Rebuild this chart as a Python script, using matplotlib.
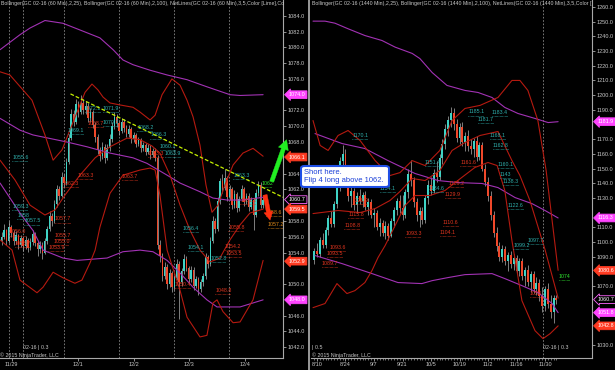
import matplotlib
matplotlib.use("Agg")
import matplotlib.pyplot as plt
import matplotlib.transforms as mtransforms
from matplotlib.lines import Line2D
from matplotlib.patches import FancyBboxPatch
from matplotlib.ticker import FormatStrFormatter, FixedLocator

plt.rcParams['font.family'] = ['Liberation Sans', 'DejaVu Sans']

# ---------------- LEFT PANEL DATA (60 min bars) ----------------
left_open = [1055.4,1056.0,1056.8,1055.5,1057.2,1056.5,1055.4,1056.2,1055.0,1055.8,
             1054.8,1055.6,1054.6,1055.3,1056.4,1055.2,1054.5,1055.0,1054.0,1055.4,
             1057.0,1058.6,1058.0,1060.2,1062.0,1061.2,1063.6,1062.8,1065.5,1068.5,
             1071.5,1070.6,1072.8,1071.8,1073.0,1072.0,1072.6,1071.0,1071.8,1070.2,
             1068.6,1067.0,1066.2,1067.4,1066.0,1067.2,1068.4,1070.0,1071.2,1070.4,
             1069.4,1070.6,1069.8,1069.0,1069.6,1068.4,1068.9,1067.8,1068.2,1067.2,
             1067.6,1066.8,1067.3,1066.4,1066.9,1066.0,1055.0,1053.6,1051.0,1052.2,
             1050.0,1051.4,1049.6,1050.8,1052.6,1050.2,1051.6,1053.2,1052.0,1050.6,
             1051.8,1049.8,1050.6,1049.4,1050.2,1051.0,1053.4,1052.6,1055.5,1058.0,
             1057.0,1060.5,1063.0,1062.2,1063.4,1061.0,1062.0,1060.0,1061.4,1059.6,
             1060.8,1062.0,1060.4,1061.2,1059.8,1060.6,1058.8,1061.5,1062.6,1060.0]
left_high = [1056.6,1057.6,1057.0,1058.0,1057.5,1056.8,1056.7,1056.4,1056.2,1056.0,
             1056.1,1055.9,1055.8,1056.9,1056.6,1055.5,1055.4,1055.3,1055.8,1057.4,
             1059.2,1059.0,1060.7,1062.6,1062.4,1064.2,1064.0,1066.0,1069.0,1072.2,
             1072.0,1073.4,1073.2,1074.0,1073.4,1073.2,1072.9,1072.3,1072.1,1070.5,
             1069.0,1067.4,1068.0,1067.7,1067.7,1069.0,1070.6,1071.8,1071.5,1070.7,
             1071.1,1070.9,1070.1,1070.1,1069.9,1069.3,1069.2,1068.6,1068.5,1068.0,
             1067.9,1067.7,1067.6,1067.3,1067.2,1066.3,1055.6,1054.0,1052.8,1052.5,
             1051.9,1051.7,1051.2,1053.2,1052.9,1052.0,1053.8,1053.5,1052.3,1052.3,
             1052.1,1051.0,1050.9,1050.6,1051.4,1054.0,1053.7,1056.0,1058.6,1058.4,
             1061.0,1063.5,1063.9,1064.6,1063.7,1062.6,1062.3,1061.9,1061.7,1061.2,
             1062.5,1062.3,1061.6,1061.5,1061.0,1060.9,1062.0,1063.0,1062.9,1061.1]
left_low = [1055.0,1055.7,1055.0,1055.2,1056.0,1054.9,1055.1,1054.5,1054.7,1054.2,
            1054.5,1054.1,1054.3,1055.0,1054.8,1053.6,1054.0,1053.2,1053.8,1055.1,
            1056.7,1057.4,1057.8,1059.8,1060.6,1061.0,1062.3,1062.5,1065.2,1068.2,
            1070.0,1070.3,1071.2,1071.5,1071.5,1071.6,1070.5,1070.6,1069.8,1068.0,
            1066.5,1065.6,1065.9,1065.4,1065.7,1066.9,1068.0,1069.7,1069.9,1068.9,
            1069.1,1069.3,1068.6,1068.7,1067.9,1068.0,1067.4,1067.5,1066.8,1066.9,
            1066.3,1066.5,1065.9,1066.1,1065.6,1054.4,1052.8,1050.4,1050.6,1049.4,
            1049.6,1049.0,1049.2,1050.5,1045.6,1049.8,1051.3,1051.6,1050.1,1050.2,
            1049.2,1049.5,1048.6,1049.0,1049.8,1050.7,1052.0,1052.3,1055.2,1056.5,
            1056.7,1060.2,1061.6,1061.9,1060.5,1060.6,1059.5,1059.7,1059.1,1059.3,
            1060.5,1059.9,1060.1,1059.3,1059.5,1056.9,1058.5,1061.2,1059.6,1059.7]
left_close = [1056.0,1056.8,1055.5,1057.2,1056.5,1055.4,1056.2,1055.0,1055.8,1054.8,
              1055.6,1054.6,1055.3,1056.4,1055.2,1054.5,1055.0,1054.0,1055.4,1057.0,
              1058.6,1058.0,1060.2,1062.0,1061.2,1063.6,1062.8,1065.5,1068.5,1071.5,
              1070.6,1072.8,1071.8,1073.0,1072.0,1072.6,1071.0,1071.8,1070.2,1068.6,
              1067.0,1066.2,1067.4,1066.0,1067.2,1068.4,1070.0,1071.2,1070.4,1069.4,
              1070.6,1069.8,1069.0,1069.6,1068.4,1068.9,1067.8,1068.2,1067.2,1067.6,
              1066.8,1067.3,1066.4,1066.9,1066.0,1055.0,1053.6,1051.0,1052.2,1050.0,
              1051.4,1049.6,1050.8,1052.6,1050.2,1051.6,1053.2,1052.0,1050.6,1051.8,
              1049.8,1050.6,1049.4,1050.2,1051.0,1053.4,1052.6,1055.5,1058.0,1057.0,
              1060.5,1063.0,1062.2,1063.4,1061.0,1062.0,1060.0,1061.4,1059.6,1060.8,
              1062.0,1060.4,1061.2,1059.8,1060.6,1058.8,1061.5,1062.6,1060.0,1060.7]

# Bollinger (2,25) bands (bar index, price)
left_bb25_up_x = [-0.6,3.5,12.7,18.1,21.5,25.2,28.5,31.9,34.8,37.7,40.2,42.3,45.2,49.4,54.8,57.7,
                  61.9,64,66.9,71,74.4,77.3,79.8,82.7,85.2,87.7,90.2,93.1,96.5,100.6,104.8,109]
left_bb25_up_y = [1076.9,1076.5,1073.3,1068.9,1065.7,1067.0,1069.5,1072.1,1074.3,1075.35,1074.6,
                  1073.7,1072.95,1072.7,1072.4,1071.8,1070.8,1071.4,1074.0,1076.0,1075.2,1073.3,
                  1071.2,1067.6,1062.55,1059.1,1060.0,1062.55,1065.1,1066.6,1067.2,1066.2]
left_bb25_mid_x = [-0.6,5.6,11.9,18.1,22.3,26.5,32.7,39,45.2,52.3,57.7,62.7,66,70.2,74.4,78.5,
                   82.7,86.9,91,95.2,99.4,103.5,109]
left_bb25_mid_y = [1065.7,1063.2,1060.0,1058.75,1059.4,1061.3,1063.8,1066.0,1067.4,1068.5,1068.3,
                   1067.5,1066.6,1063.8,1060.0,1056.85,1054.3,1052.8,1053.3,1055.6,1057.5,1059.0,1059.5]
left_bb25_lo_x = [-0.6,4.4,7.7,14.8,17.3,21.5,25.6,30.6,33.5,36.9,39,41,45.2,50.6,57.7,61.9,64,
                  66,69,74.4,77.3,82.7,85.6,88.1,89.8,92.3,96.5,99.4,104.8,109]
left_bb25_lo_y = [1055.6,1054.3,1050.5,1048.9,1049.6,1051.5,1050.8,1050.1,1050.5,1052.7,1054.3,
                  1057.2,1061.5,1063.8,1064.45,1064.7,1064.45,1061.3,1054.3,1049.2,1045.8,1043.3,
                  1043.5,1047.6,1048.0,1046.5,1045.1,1045.2,1048.0,1053.0]
# Bollinger (2,100) bands
left_bb100_up_x = [-0.6,7.7,11.9,18.1,25.6,32.7,41,46.5,50.6,54.8,61.9,69,77.3,85.6,95.2,99.4,109]
left_bb100_up_y = [1079.7,1081.6,1082.45,1083.4,1083.05,1082.2,1081.2,1079.7,1078.4,1077.8,1077.1,
                   1076.5,1075.9,1075.0,1074.0,1073.9,1074.0]
left_bb100_mid_x = [-0.6,7.7,13.1,27.3,35.6,45.2,54.8,60.6,69,74.4,82.7,88.1,94,100.6,109]
left_bb100_mid_y = [1071.0,1069.5,1068.9,1068.0,1067.4,1066.6,1066.0,1065.3,1063.8,1062.8,1061.7,
                    1060.9,1060.65,1060.65,1061.0]
left_bb100_lo_x = [-0.6,7.7,13.1,17.3,25.6,31.5,44,50.6,57.7,63.1,69,74.4,79.8,85.6,89.8,99.4,109]
left_bb100_lo_y = [1062.8,1059.0,1056.8,1054.3,1053.3,1053.0,1053.3,1054.1,1054.3,1054.1,1053.0,
                   1051.4,1049.6,1048.0,1047.1,1047.1,1048.0]

left_sessions = [3.25, 9.1, 26.2, 49.1, 72.0, 94.9]
left_date_pos = [4.25, 31.9, 55.2, 78.1, 101.5]
left_date_lab = ['11/29', '12/1', '12/2', '12/3', '12/4']
# price ticks that are not hidden behind the price tags
left_yticks = [1042, 1044, 1046, 1050, 1054, 1056, 1058, 1062, 1064, 1068, 1070, 1072,
               1076, 1078, 1080, 1082, 1084]

# NetLines labels: (bar, price, text, colour)
left_lab_x = [4.4,4.4,6.5,9.4,3.5,5.6,22.3,22.3,21.5,19.4,25.6,31.5,27.7,34.8,42.3,36.0,42.3,
              56.5,61.9,66.0,68.1,61.0,50.2,96.5,108.5,99.4,110.2,111.0,94.4,75.6,77.7,93.1,
              93.5,86.9,72.3,89.0]
left_lab_y = [1066.1,1059.8,1058.75,1058.0,1056.6,1055.2,1058.25,1056.2,1055.45,1054.6,1062.8,
              1063.8,1069.5,1072.3,1072.3,1070.4,1070.5,1069.8,1068.9,1067.4,1066.6,1066.6,
              1063.6,1063.8,1062.7,1060.65,1059.1,1057.6,1057.2,1057.0,1054.6,1054.8,1053.9,
              1053.3,1049.9,1049.2]
left_lab_t = ['1055.6','1059.3','1058','1057.5','1056.0','1053.7','1057.7','1055.7','1055.0',
              '1053.9','1062.3','1063.3','1069.1','1072.1','1071.9','1068.7','1070.1','1068.2',
              '1066.3','1060.1','1063.9','1063.3','1063.7','1063.3','1062','1061.2','1058.6',
              '1057.2','1055.8','1056.4','1054.1','1054.2','1053.5','1052.8','1050.4','1048.8']
left_lab_c = ['T','T','T','T','R','R','R','R','R','R','R','R','T','T','T','R','T','T','T','T',
              'T','R','R','T','L','R','O','O','R','T','T','R','R','T','R','R']

left_tag_v = [1074.0, 1066.1, 1060.7, 1059.5, 1052.9, 1048.0]
left_tag_k = ['M', 'R', 'P', 'R', 'R', 'M']

# ---------------- RIGHT PANEL DATA (daily bars) ----------------
right_open = [1088,1094,1092,1101,1098,1108,1116,1112,1126,1138,1155,1160,1143,1131,1135,1125,
              1131,1128,1132,1124,1127,1118,1120,1110,1113,1106,1111,1104,1114,1122,1128,1123,
              1118,1134,1146,1142,1127,1118,1121,1115,1130,1139,1135,1147,1144,1157,1167,1177,
              1183,1188,1180,1171,1178,1168,1172,1165,1163,1169,1158,1166,1150,1141,1131,1118,
              1106,1097,1090,1095,1087,1091,1085,1089,1080,1087,1077,1081,1073,1078,1068,1072,
              1063,1056,1068,1058,1052,1062]
right_high = [1096,1099,1103,1106,1110,1118,1121,1128,1140,1158,1166,1163,1146,1138,1137,1134,
              1136,1134,1135,1130,1129,1123,1122,1116,1115,1114,1113,1116,1124,1130,1132,1132,
              1136,1150,1156,1144,1130,1124,1124,1132,1142,1144,1150,1155,1160,1170,1180,1186,
              1192,1191,1184,1181,1182,1175,1176,1170,1171,1172,1168,1168,1153,1144,1135,1121,
              1110,1100,1098,1097,1093,1094,1092,1091,1089,1089,1083,1084,1080,1080,1076,1075,
              1069,1070,1072,1064,1064,1064]
right_low = [1085,1090,1090,1096,1096,1105,1110,1110,1123,1135,1150,1140,1128,1124,1122,1120,
             1126,1124,1122,1118,1116,1110,1108,1104,1104,1102,1101,1103,1110,1118,1120,1115,
             1116,1130,1138,1124,1114,1110,1112,1113,1126,1132,1133,1141,1142,1153,1163,1172,
             1178,1176,1168,1167,1165,1162,1162,1160,1158,1155,1156,1148,1138,1128,1115,1103,
             1094,1087,1086,1084,1080,1082,1081,1078,1077,1074,1070,1070,1066,1065,1064,1060,
             1052,1053,1055,1048,1045,1058]
right_close = [1094,1092,1101,1098,1108,1116,1112,1126,1138,1155,1160,1143,1131,1135,1125,1131,
               1128,1132,1124,1127,1118,1120,1110,1113,1106,1111,1104,1114,1122,1128,1123,1118,
               1134,1146,1142,1127,1118,1121,1115,1130,1139,1135,1147,1144,1157,1167,1177,1183,
               1188,1180,1171,1178,1168,1172,1165,1163,1169,1158,1166,1150,1141,1131,1118,1106,
               1097,1090,1095,1087,1091,1085,1089,1080,1087,1077,1081,1073,1078,1068,1072,1063,
               1056,1068,1058,1052,1062,1060.7]

right_bb25_up_x = [-0.4,2.1,4.9,8.4,11.9,16.1,21.4,26.6,30.1,34.4,38.9,44.1,48.4,52.9,58.2,64.5,
                   69.4,72.2,75,78.5,81.4,83.5,85.6]
right_bb25_up_y = [1182.7,1165.7,1162.3,1172.5,1175.9,1169.1,1155.4,1145.2,1147.2,1155.4,1152.0,
                   1162.3,1182.7,1190.9,1193.0,1198.4,1210.0,1210.0,1203.2,1182.7,1148.6,1114.5,1080.6]
right_bb25_mid_x = [-0.4,8.4,16.1,21.4,26.6,30.1,34.4,38.9,44.1,48.4,52.9,58.2,64.5,69.4,72.2,
                    75.7,81,85.6]
right_bb25_mid_y = [1119.3,1121.4,1120.0,1122.7,1128.2,1134.3,1143.2,1141.8,1148.6,1162.3,1167.7,
                    1172.5,1175.2,1155.4,1145.2,1128.2,1094.8,1061.7]
right_bb25_lo_x = [-0.4,3.8,8.0,11.5,14.3,17.8,20.3,22.4,24.9,28.4,31.9,35.4,40.6,45.9,51.8,56.4,
                   61,64.2,66.9,69.4,72.9,77.5,80.3,82.8,85.6]
right_bb25_lo_y = [1055.2,1058.0,1071.6,1064.8,1066.8,1072.3,1080.5,1089.3,1097.5,1111.1,1124.8,
                   1131.6,1131.6,1135.0,1143.9,1150.7,1154.1,1152.0,1135.0,1100.9,1060.0,1039.5,
                   1034.1,1037.5,1042.8]
right_bb100_up_x = [-0.4,3.8,7.3,11.9,17.8,23.8,28.4,34.4,37.1,41.4,46.6,52.9,57.5,62.4,66.9,
                    71.5,77.5,82.1,85.6]
right_bb100_up_y = [1250.4,1250.4,1249.0,1245.2,1240.6,1237.2,1232.7,1228.4,1224.9,1215.4,1206.6,
                    1203.2,1201.8,1198.4,1191.6,1187.5,1184.1,1181.3,1181.9]
right_bb100_mid_x = [0.3,9.8,17.8,25.9,35.4,43.5,50.5,58.9,64.5,70.5,76.4,81,85.6]
right_bb100_mid_y = [1173.8,1167.0,1163.6,1155.4,1146.6,1141.8,1140.4,1139.8,1137.0,1130.2,1126.1,
                     1121.4,1116.3]
right_bb100_lo_x = [0.3,9.8,20.3,29.4,37.8,41.4,47,52.9,62.4,66.9,72.9,78.5,83.5,85.6]
right_bb100_lo_y = [1090.7,1085.2,1078.4,1072.3,1071.6,1073.6,1075.7,1077.7,1078.4,1075.0,1070.2,
                    1065.5,1058.0,1051.8]

right_sessions = [80.4]
right_date_pos = [1, 11, 21, 31, 41, 51, 61, 71, 81]
right_date_lab = ['8/10', '8/24', '9/7', '9/21', '10/5', '10/19', '11/2', '11/16', '11/30']
right_yticks = [1030, 1070, 1090, 1100, 1110, 1130, 1140, 1150, 1160, 1170, 1190, 1200, 1210,
                1220, 1230, 1240, 1250, 1260]

right_lab_x = [13.3,54.0,57.5,62.3,61.7,62.7,64.5,65.2,66.2,68.0,75.0,69.8,85.9,23.1,40.0,38.9,
               51.2,47.0,45.9,11.9,10.5,45.2,44.1,31.9,5.5,4.5,2.7,13.3,75.7]
right_lab_y = [1172.5,1188.5,1183.6,1188.0,1172.5,1165.7,1152.7,1145.9,1141.1,1124.8,1100.9,
               1097.5,1076.4,1136.4,1136.4,1154.1,1154.1,1139.8,1132.3,1118.6,1111.1,1113.2,
               1106.4,1105.7,1096.1,1092.0,1085.2,1128.0,1064.8]
right_lab_t = ['1170.1','1185.1','1181.7','1183.4','1168.1','1162.8','1160.1','1143','1138.3',
               '1122.6','1097.7','1099.2','1074','1134.1','1134.6','1151.4','1161.6','1139.2',
               '1129.9','1115.8','1108.8','1110.6','1104.1','1093.3','1093.6','1093.5','1089.7',
               '1126.9','1053']
right_lab_c = ['T','T','T','T','T','T','T','T','T','T','T','T','L','T','T','T','R','R','R','R',
               'R','R','R','R','R','R','R','R','R']

right_tag_v = [1181.9, 1116.3, 1080.6, 1060.7, 1051.8, 1042.8]
right_tag_k = ['M', 'M', 'R', 'P', 'M', 'R']

left_title = ("Bollinger(GC 02-16 (60 Min),2,25), Bollinger(GC 02-16 (60 Min),2,100), "
              "NetLines(GC 02-16 (60 Min),3,5,Color [Lime],Co")
right_title = ("Bollinger(GC 02-16 (1440 Min),2,25), Bollinger(GC 02-16 (1440 Min),2,100), "
               "NetLines(GC 02-16 (1440 Min),3,5,Color [")

# ---------------- STYLE ----------------
BG = 'black'
GRID = '#8a8a8a'
TXT = '#c8c8c8'
UP = '#3fd3c5'
DN = '#f0482a'
WICK = '#b0b0b0'
BB25 = '#b51a10'
BB100 = '#a232b4'
LABC = {'T': '#2fb0ad', 'R': '#e2351f', 'L': '#30e830', 'O': '#e08a18'}
TAGC = {'M': ('#ff44ff', '#ff44ff'), 'R': ('#ff3b22', '#ff3b22'), 'P': ('#000000', '#ff66ff')}

W, H = 615, 370
fig = plt.figure(figsize=(W / 100, H / 100), dpi=100, facecolor=BG)


def rect(x0, x1, y0, y1):
    return [x0 / W, 1 - y1 / H, (x1 - x0) / W, (y1 - y0) / H]


axL = fig.add_axes(rect(0, 283, 0, 358))
axR = fig.add_axes(rect(311, 592, 0, 358))


def style(ax):
    ax.set_facecolor(BG)
    for s in ['top', 'left']:
        ax.spines[s].set_visible(False)
    for s in ['right', 'bottom']:
        ax.spines[s].set_color('#a8a8a8')
        ax.spines[s].set_linewidth(0.8)
    ax.tick_params(axis='y', which='both', left=False, right=True, labelleft=False,
                   labelright=True, length=2, width=0.5, pad=1.0, labelsize=4, colors=TXT)
    ax.tick_params(axis='x', which='major', length=2, width=0.5, pad=1.0, labelsize=4,
                   colors=TXT)
    ax.tick_params(axis='x', which='minor', length=1.5, width=0.4, colors=TXT)
    ax.yaxis.set_major_formatter(FormatStrFormatter('%.1f'))


def candles(ax, o, h, l, c, w, minh):
    x = list(range(len(c)))
    ax.vlines(x, l, h, color=WICK, lw=0.5, zorder=3)
    bottoms = [min(a, b) for a, b in zip(o, c)]
    heights = [max(abs(b - a), minh) for a, b in zip(o, c)]
    cols = [UP if b >= a else DN for a, b in zip(o, c)]
    ax.bar(x, heights, bottom=bottoms, width=w, color=cols, lw=0, zorder=4)


def bands(ax, specs):
    for xs, ys, col in specs:
        ax.plot(xs, ys, color=col, lw=0.8, zorder=5, solid_capstyle='round')


def labels(ax, xs, ys, ts, cs, wfac):
    under = mtransforms.offset_copy(ax.transData, fig=fig, y=-2.6, units='points')
    for x, y, t, c in zip(xs, ys, ts, cs):
        col = LABC[c]
        ax.text(x, y, t, fontsize=3.8, color=col, ha='left', va='center', zorder=7,
                clip_on=True)
        ax.plot([x, x + len(t) * wfac], [y, y], color=col, lw=0.6, ls=(0, (0.6, 0.9)),
                transform=under, zorder=7)


def tags(ax, vals, kinds):
    for v, k in zip(vals, kinds):
        fc, ec = TAGC[k]
        ax.annotate(f'{v:.1f}', xy=(1, v), xycoords=('axes fraction', 'data'),
                    xytext=(4.2, 0), textcoords='offset points', ha='left', va='center',
                    fontsize=3.9, color='white', zorder=20, annotation_clip=False,
                    bbox=dict(boxstyle='larrow,pad=0.25', fc=fc, ec=ec, lw=0.6))


for ax in (axL, axR):
    style(ax)

# ---- left panel ----
axL.set_xlim(-0.625, 117.29)
axL.set_ylim(1040.63, 1086.0)
for s in left_sessions:
    axL.axvline(s, color=GRID, lw=0.6, ls=(0, (2, 2)), zorder=1)
candles(axL, left_open, left_high, left_low, left_close, 0.62, 0.08)
bands(axL, [(left_bb100_up_x, left_bb100_up_y, BB100),
            (left_bb100_mid_x, left_bb100_mid_y, BB100),
            (left_bb100_lo_x, left_bb100_lo_y, BB100),
            (left_bb25_up_x, left_bb25_up_y, BB25),
            (left_bb25_mid_x, left_bb25_mid_y, BB25),
            (left_bb25_lo_x, left_bb25_lo_y, BB25)])
labels(axL, left_lab_x, left_lab_y, left_lab_t, left_lab_c, 1.1)
axL.yaxis.set_major_locator(FixedLocator(left_yticks))
axL.xaxis.set_major_locator(FixedLocator(left_date_pos))
axL.set_xticklabels(left_date_lab)
# trend line
axL.plot([28.75, 117.29], [1074.1, 1061.0], color='#c6f000', lw=0.9, ls=(0, (3, 1.6)), zorder=8)
# arrows
axL.annotate('', xy=(118.8, 1068.3), xytext=(112.6, 1063.0), annotation_clip=False, zorder=21,
             arrowprops=dict(arrowstyle='simple,head_width=0.75,head_length=0.7,tail_width=0.3',
                             fc='#22ee22', ec='#22ee22', lw=0.3, shrinkA=0, shrinkB=0))
axL.annotate('', xy=(111.9, 1058.1), xytext=(109.8, 1061.3), annotation_clip=False, zorder=21,
             arrowprops=dict(arrowstyle='simple,head_width=0.65,head_length=0.6,tail_width=0.3',
                             fc='#ff3010', ec='#ff3010', lw=0.3, shrinkA=0, shrinkB=0))
tags(axL, left_tag_v, left_tag_k)
axL.text(0.004, 0.996, left_title, transform=axL.transAxes, ha='left', va='top', fontsize=3.8,
         color=TXT, zorder=30)
axL.text(23 / 283, 11 / 358, '02-16 | 0.3', transform=axL.transAxes, ha='left', va='center',
         fontsize=3.8, color=TXT)
axL.text(0.0, 3 / 358, '\u00a9 2015 NinjaTrader, LLC', transform=axL.transAxes, ha='left',
         va='center', fontsize=3.8, color=TXT)

# ---- right panel ----
axR.set_xlim(-1.105, 97.49)
axR.set_ylim(1020.9, 1264.8)
for s in right_sessions:
    axR.axvline(s, color=GRID, lw=0.6, ls=(0, (2, 2)), zorder=1)
candles(axR, right_open, right_high, right_low, right_close, 0.7, 0.6)
bands(axR, [(right_bb100_up_x, right_bb100_up_y, BB100),
            (right_bb100_mid_x, right_bb100_mid_y, BB100),
            (right_bb100_lo_x, right_bb100_lo_y, BB100),
            (right_bb25_up_x, right_bb25_up_y, BB25),
            (right_bb25_mid_x, right_bb25_mid_y, BB25),
            (right_bb25_lo_x, right_bb25_lo_y, BB25)])
labels(axR, right_lab_x, right_lab_y, right_lab_t, right_lab_c, 0.95)
axR.yaxis.set_major_locator(FixedLocator(right_yticks))
axR.xaxis.set_major_locator(FixedLocator(right_date_pos))
axR.xaxis.set_minor_locator(FixedLocator(list(range(len(right_close)))))
axR.set_xticklabels(right_date_lab)
tags(axR, right_tag_v, right_tag_k)
axR.text(0.004, 0.996, right_title, transform=axR.transAxes, ha='left', va='top', fontsize=3.8,
         color=TXT, zorder=30)
axR.text(0.004, 11 / 358, '| 0.5', transform=axR.transAxes, ha='left', va='center',
         fontsize=3.8, color=TXT)
axR.text(0.004, 3 / 358, '\u00a9 2015 NinjaTrader, LLC', transform=axR.transAxes, ha='left',
         va='center', fontsize=3.8, color=TXT)
axR.text(232 / 281, 11 / 358, '02-16 | 0.3', transform=axR.transAxes, ha='left',
         va='center', fontsize=3.8, color=TXT)

# panel separator
fig.add_artist(Line2D([309.2 / W, 309.2 / W], [0, 1], transform=fig.transFigure,
                      color='#9a9a9a', lw=1.4))

# annotation box
box = FancyBboxPatch((301 / W, 1 - 187 / H), 88 / W, 21 / H, transform=fig.transFigure,
                     boxstyle='round,pad=0,rounding_size=0.006', fc='white', ec='#1f4fe6',
                     lw=1.5, zorder=40)
fig.add_artist(box)
fig.text(304.5 / W, 1 - 176.5 / H, 'Short here.\nFlip 4 long above 1062.', ha='left',
         va='center', fontsize=5.5, color='#1a3fd8', linespacing=1.2, zorder=41)

fig.savefig('out.png', dpi=100, facecolor=BG)
